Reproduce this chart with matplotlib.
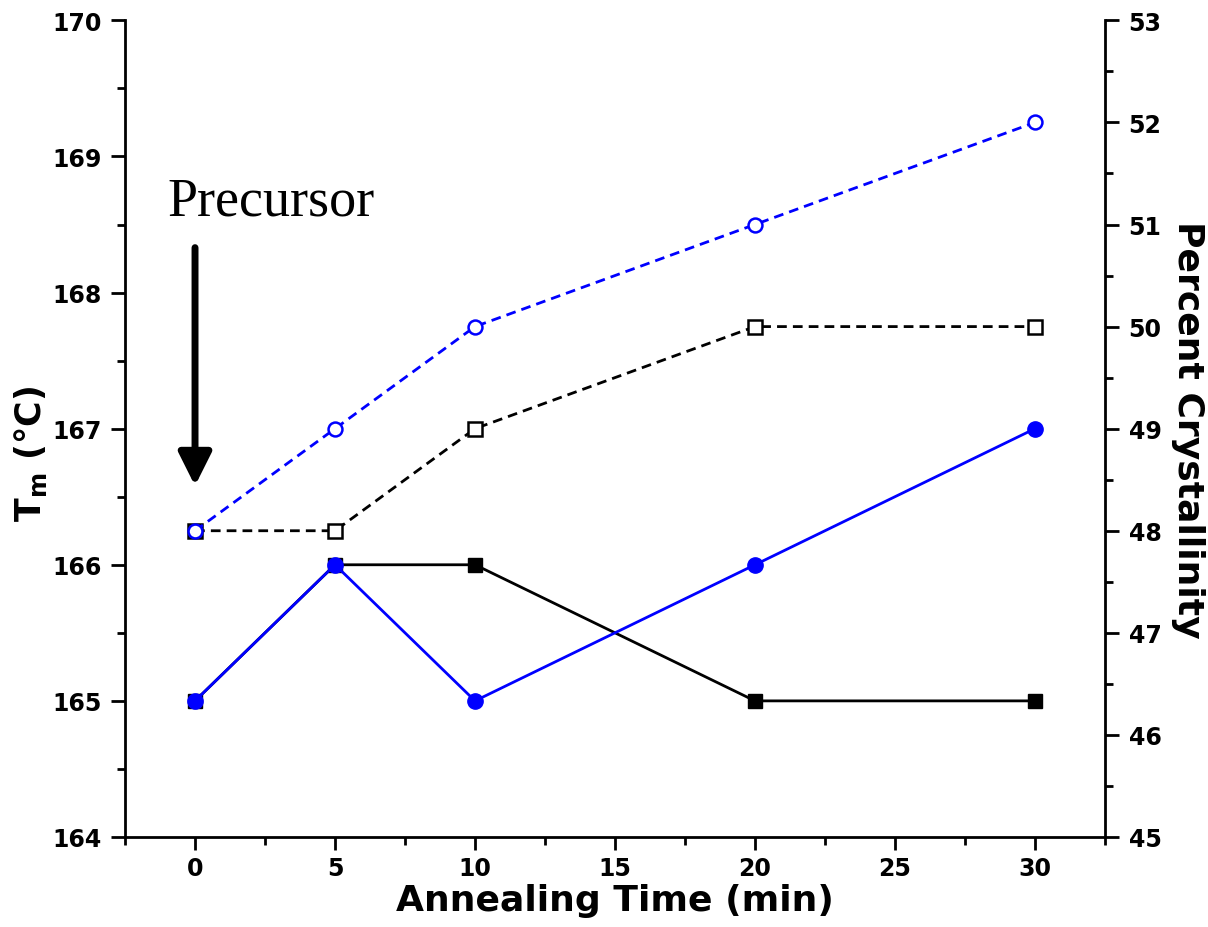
import matplotlib
matplotlib.use("Agg")
import matplotlib.pyplot as plt
from matplotlib.ticker import MultipleLocator

plt.rcParams['font.family'] = 'DejaVu Sans'
plt.rcParams['font.weight'] = 'bold'
plt.rcParams['mathtext.fontset'] = 'custom'
plt.rcParams['mathtext.bf'] = 'DejaVu Sans:bold'
plt.rcParams['mathtext.rm'] = 'DejaVu Sans:bold'

# annealing time (min)
time = [0, 5, 10, 20, 30]
# melting temperature, left axis
tm_blue = [165, 166, 165, 166, 167]
tm_black = [165, 166, 166, 165, 165]
# percent crystallinity, right axis
xc_blue = [48, 49, 50, 51, 52]
xc_black = [48, 48, 49, 50, 50]

fig = plt.figure(figsize=(12.08, 9.28), dpi=100)
ax = fig.add_axes([0.1035, 0.097, 0.9147 - 0.1035, 0.977 - 0.097])
ax2 = ax.twinx()

# Tm series (filled)
ax.plot(time, tm_black, '-', color='black', lw=2, marker='s', ms=10,
        mfc='black', mec='black', zorder=3)
ax.plot(time, tm_blue, '-', color='blue', lw=2, marker='o', ms=11,
        mfc='blue', mec='blue', zorder=4)

# crystallinity series (open)
ax2.plot(time, xc_black, color='black', lw=2, ls=(0, (3.5, 2.2)), marker='s',
         ms=10, mfc='white', mec='black', mew=1.8, zorder=3)
ax2.plot(time, xc_blue, color='blue', lw=2, ls=(0, (3.5, 2.2)), marker='o',
         ms=10, mfc='white', mec='blue', mew=1.8, zorder=4)

ax.set_xlim(-2.5, 32.5)
ax.set_ylim(164, 170)
ax2.set_ylim(45, 53)

ax.xaxis.set_major_locator(MultipleLocator(5))
ax.xaxis.set_minor_locator(MultipleLocator(2.5))
ax.yaxis.set_major_locator(MultipleLocator(1))
ax.yaxis.set_minor_locator(MultipleLocator(0.5))
ax2.yaxis.set_major_locator(MultipleLocator(1))
ax2.yaxis.set_minor_locator(MultipleLocator(0.5))

for a in (ax, ax2):
    a.spines['top'].set_visible(False)
    for s in a.spines.values():
        s.set_linewidth(2)
    a.tick_params(which='major', direction='out', length=10, width=2,
                  labelsize=17, pad=7)
    a.tick_params(which='minor', direction='out', length=5.5, width=2)
ax.spines['right'].set_visible(False)
ax2.spines['left'].set_visible(False)
ax2.spines['bottom'].set_visible(False)
ax.tick_params(axis='x', which='major', length=9, pad=5)
ax.tick_params(axis='x', which='minor', length=5.5)

ax.set_xlabel('Annealing Time (min)', fontsize=26, fontweight='bold', labelpad=2)
ax.set_ylabel(r'$\mathbf{T_m}$ (°C)', fontsize=25, fontweight='bold')
ax.yaxis.set_label_coords(-0.078, 0.47)
ax2.set_ylabel('Percent Crystallinity', fontsize=26, fontweight='bold',
               rotation=270, labelpad=31)

ax.text(-1.0, 168.575, 'Precursor', family='Liberation Serif', fontweight='normal',
        fontsize=39, va='baseline', ha='left')
ax.annotate('', xy=(0, 166.58), xytext=(0, 168.33),
            arrowprops=dict(arrowstyle='-|>,head_length=1.0,head_width=0.5',
                            mutation_scale=20, lw=5, color='black',
                            shrinkA=0, shrinkB=0))

fig.savefig('out.png', dpi=100)
